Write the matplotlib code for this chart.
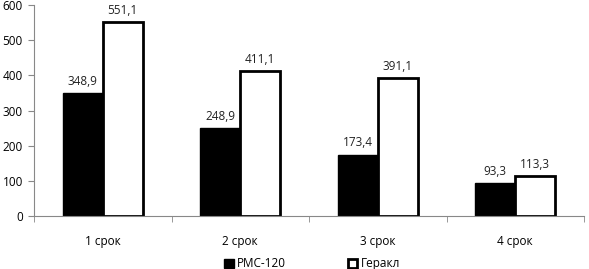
import matplotlib.pyplot as plt
import numpy as np
from matplotlib.patches import Patch

plt.rcParams['font.family'] = ['Open Sans', 'DejaVu Sans']

categories = ["1 срок", "2 срок", "3 срок", "4 срок"]
rms = [348.9, 248.9, 173.4, 93.3]
gerakl = [551.1, 411.1, 391.1, 113.3]
series_names = ["РМС-120", "Геракл"]

fig = plt.figure(figsize=(5.89, 2.69), dpi=100)
ax = fig.add_axes([34 / 589, 1 - 216 / 269, 550 / 589, 211 / 269])

x = np.arange(len(categories))
w = 0.29
b1 = ax.bar(x - w / 2, rms, w, color="black", edgecolor="black", linewidth=1)
b2 = ax.bar(x + w / 2, gerakl, w, color="white", edgecolor="black", linewidth=2)

fmt = lambda v: f"{v:.1f}".replace(".", ",")
for bars, vals in ((b1, rms), (b2, gerakl)):
    for r, v in zip(bars, vals):
        ax.annotate(fmt(v), (r.get_x() + r.get_width() / 2, v),
                    xytext=(0, 4), textcoords="offset points",
                    ha="center", va="bottom", fontsize=8.5, color="#222222")

ax.set_xlim(-0.5, len(categories) - 0.5)
ax.set_ylim(0, 600)
ax.set_yticks(range(0, 601, 100))
ax.set_xticks(x)
ax.set_xticklabels(categories)
ax.set_xticks(np.arange(-0.5, len(categories)), minor=True)
ax.tick_params(axis="x", which="major", length=0, pad=14, labelsize=8.5)
ax.tick_params(axis="x", which="minor", length=4, color="#888888")
ax.tick_params(axis="y", length=4, color="#888888", labelsize=8.5, pad=4)
for s in ("top", "right"):
    ax.spines[s].set_visible(False)
for s in ("left", "bottom"):
    ax.spines[s].set_color("#888888")

handles = [Patch(facecolor="black", edgecolor="black"),
           Patch(facecolor="white", edgecolor="black", linewidth=2)]
fig.legend(handles, series_names, loc="lower center", ncol=2, frameon=False,
           fontsize=8.5, bbox_to_anchor=(0.53, -0.045), handlelength=0.8,
           handleheight=0.8, handletextpad=0.3, columnspacing=5.2)

fig.savefig("out.png", dpi=100)
